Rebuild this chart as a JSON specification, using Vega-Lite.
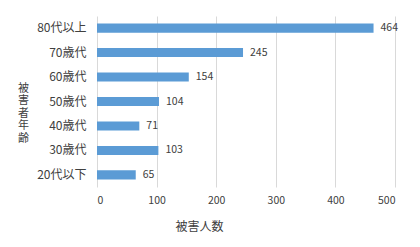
{
  "$schema": "https://vega.github.io/schema/vega-lite/v6.json",
  "autosize": {"type": "none"},
  "padding": {"left": 97, "top": 16, "right": 25, "bottom": 60},
  "width": 298,
  "height": 171,
  "background": "white",
  "config": {
    "view": {"stroke": null},
    "font": "Noto Sans CJK JP"
  },
  "data": {
    "values": [
      {"age": "80代以上", "count": 464},
      {"age": "70歳代", "count": 245},
      {"age": "60歳代", "count": 154},
      {"age": "50歳代", "count": 104},
      {"age": "40歳代", "count": 71},
      {"age": "30歳代", "count": 103},
      {"age": "20代以下", "count": 65}
    ]
  },
  "encoding": {
    "y": {
      "field": "age",
      "type": "nominal",
      "sort": null,
      "scale": {"paddingInner": 0.63, "paddingOuter": 0.31},
      "axis": {
        "title": ["被", "害", "者", "年", "齢"],
        "titleAngle": 0,
        "titleX": -74,
        "titleY": 72,
        "titleAlign": "center",
        "titleBaseline": "middle",
        "titleLineHeight": 12.5,
        "titleFontSize": 11,
        "titleFontWeight": "normal",
        "titleColor": "#404040",
        "ticks": false,
        "domain": false,
        "labelPadding": 11,
        "labelFontSize": 12,
        "labelColor": "#404040"
      }
    },
    "x": {
      "field": "count",
      "type": "quantitative",
      "scale": {"domain": [0, 500], "nice": false},
      "axis": {
        "title": "被害人数",
        "values": [0, 100, 200, 300, 400, 500],
        "titleX": 102,
        "titleY": 39,
        "titleAlign": "center",
        "titleBaseline": "middle",
        "titleFontSize": 12,
        "titleFontWeight": "normal",
        "titleColor": "#404040",
        "ticks": false,
        "domain": false,
        "grid": true,
        "gridColor": "#D9D9D9",
        "gridWidth": 1,
        "labelPadding": 8,
        "labelFontSize": 10.5,
        "labelColor": "#404040"
      }
    }
  },
  "layer": [
    {"mark": {"type": "bar", "color": "#5B9BD5"}},
    {
      "mark": {"type": "text", "align": "left", "baseline": "middle", "dx": 7, "fontSize": 10.5, "color": "#404040"},
      "encoding": {"text": {"field": "count", "type": "quantitative"}}
    }
  ]
}
